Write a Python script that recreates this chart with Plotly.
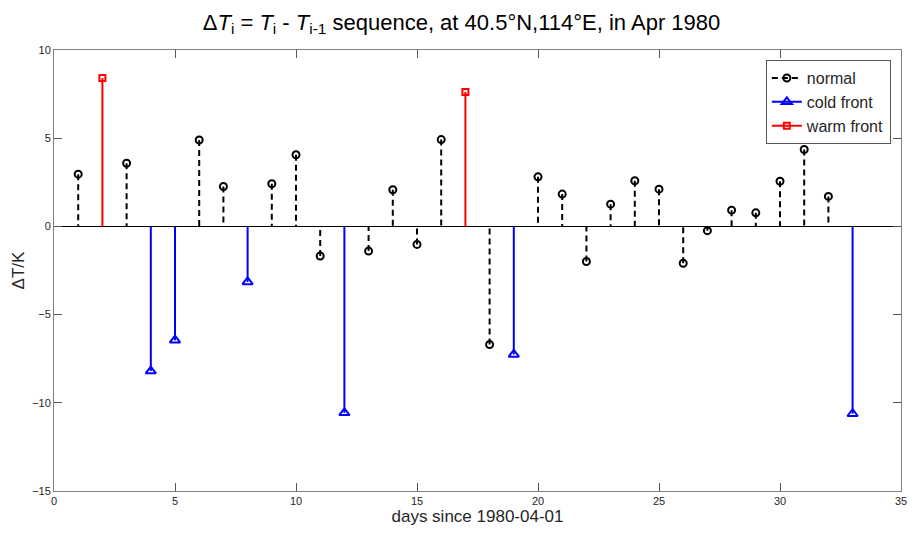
import plotly.graph_objects as go

days = list(range(1, 34))
delta_T = [2.96, 8.41, 3.58, -8.2, -6.45, 4.90, 2.26, -3.15, 2.42, 4.06,
           -1.68, -10.57, -1.40, 2.08, -1.02, 4.92, 7.62, -6.70, -7.26, 2.81,
           1.83, -1.99, 1.26, 2.59, 2.11, -2.09, -0.24, 0.92, 0.77, 2.56,
           4.36, 1.70, -10.62]
category = ["normal", "warm", "normal", "cold", "cold", "normal", "normal", "cold", "normal", "normal",
            "normal", "cold", "normal", "normal", "normal", "normal", "warm", "normal", "cold", "normal",
            "normal", "normal", "normal", "normal", "normal", "normal", "normal", "normal", "normal", "normal",
            "normal", "normal", "cold"]

x_ticks = [0, 5, 10, 15, 20, 25, 30, 35]
y_ticks = [-15, -10, -5, 0, 5, 10]

styles = {
    "normal": dict(name="normal", color="black", dash="6px,4px", symbol="circle-open", size=7),
    "cold": dict(name="cold front", color="#0000FF", dash="solid", symbol="triangle-up-open", size=9),
    "warm": dict(name="warm front", color="#FF0000", dash="solid", symbol="square-open", size=6),
}

fig = go.Figure()
for key in ["normal", "cold", "warm"]:
    st = styles[key]
    xs, ys, cols = [], [], []
    for d, v, c in zip(days, delta_T, category):
        if c != key:
            continue
        xs += [d, d, None]
        ys += [v, 0, None]
        cols += [st["color"], "rgba(0,0,0,0)", "rgba(0,0,0,0)"]
    fig.add_trace(go.Scatter(
        x=xs, y=ys, mode="lines+markers", name=st["name"],
        line=dict(color=st["color"], width=2, dash=st["dash"]),
        marker=dict(symbol=st["symbol"], size=st["size"], color=cols,
                    line=dict(width=2)),
        connectgaps=False,
    ))

axis_common = dict(
    showline=True, linecolor="#7f7f7f", linewidth=1, mirror="ticks",
    ticks="inside", ticklen=8, tickcolor="#555555", tickwidth=1,
    showgrid=False, automargin=False,
    tickfont=dict(size=11, color="#262626", family="Liberation Sans, Arial"),
)

# The page body has an 8px margin, so the figure is sized to the visible area.
fig.update_layout(
    width=907, height=525,
    margin=dict(l=46, r=14, t=42, b=42),
    paper_bgcolor="white", plot_bgcolor="white",
    font=dict(family="Liberation Sans, Arial, sans-serif", color="#262626"),
    title=dict(
        text="Δ<i>T</i><sub>i</sub> = <i>T</i><sub>i</sub> - <i>T</i><sub>i-1</sub> sequence, at 40.5°N,114°E, in Apr 1980",
        x=0.5, xanchor="center", y=0.973, yanchor="middle",
        font=dict(size=22, color="black"),
    ),
    xaxis=dict(range=[0, 35], tickvals=x_ticks, zeroline=False,
               title=dict(text="days since 1980-04-01", font=dict(size=17, color="#262626"), standoff=3),
               **axis_common),
    yaxis=dict(range=[-15, 10], tickvals=y_ticks, zeroline=True, zerolinecolor="black", zerolinewidth=1,
               title=dict(text="ΔT/K", font=dict(size=17, color="#262626"), standoff=3),
               **axis_common),
    legend=dict(x=0.988, y=0.977, xanchor="right", yanchor="top",
                bgcolor="white", bordercolor="#555555", borderwidth=1,
                font=dict(size=16, color="#262626"), tracegroupgap=0,
                itemwidth=30),
    showlegend=True,
)

fig.write_html("out.html")
